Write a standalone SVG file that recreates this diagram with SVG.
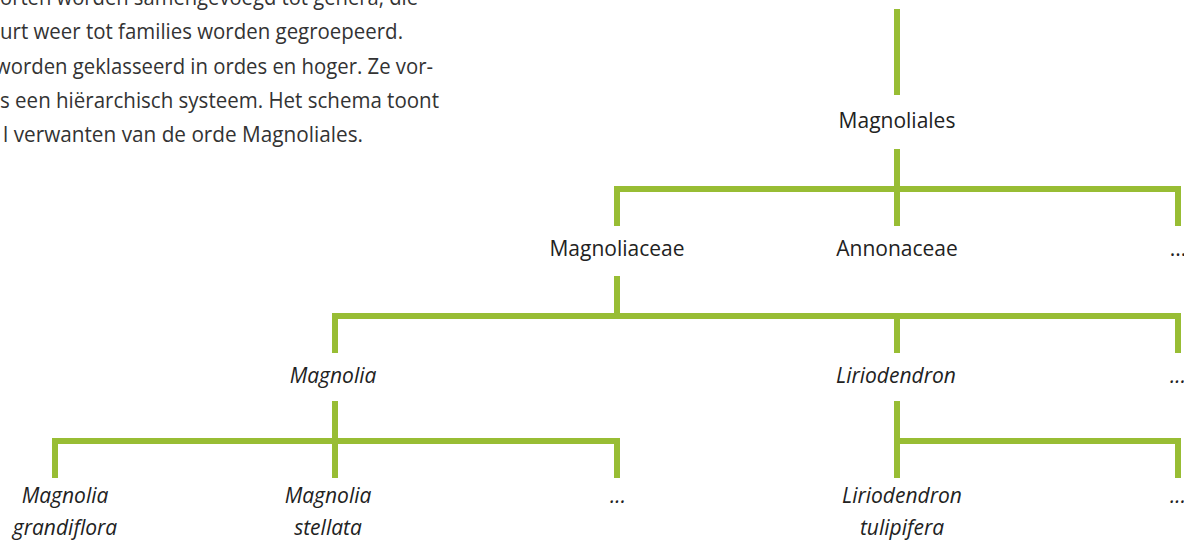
<svg xmlns="http://www.w3.org/2000/svg" width="1184" height="544" viewBox="0 0 1184 544">
  <style>
    .para { font-family: "Open Sans", "Noto Sans", "Liberation Sans", sans-serif; font-size: 21px; fill: #333333; }
    .lbl { font-family: "Open Sans", "Noto Sans", "Liberation Sans", sans-serif; font-size: 21px; fill: #222222; text-anchor: middle; }
    .it { font-style: italic; }
    .conn { fill: none; stroke: #98bd34; stroke-width: 6; stroke-linecap: butt; stroke-linejoin: miter; }
  </style>
  <rect width="1184" height="544" fill="#ffffff"/>

  <g id="intro-text">
    <text class="para" x="0" y="5" textLength="418" lengthAdjust="spacingAndGlyphs">orten worden samengevoegd tot genera, die</text>
    <text class="para" x="0" y="39" textLength="403" lengthAdjust="spacingAndGlyphs">urt weer tot families worden gegroepeerd.</text>
    <text class="para" x="-5" y="74" textLength="438" lengthAdjust="spacingAndGlyphs">worden geklasseerd in ordes en hoger. Ze vor-</text>
    <text class="para" x="0" y="108" textLength="439" lengthAdjust="spacingAndGlyphs">s een hiërarchisch systeem. Het schema toont</text>
    <text class="para" x="3" y="142" textLength="360" lengthAdjust="spacingAndGlyphs">l verwanten van de orde Magnoliales.</text>
  </g>

  <g id="connectors">
    <path class="conn" d="M897,9 V95"/>
    <path class="conn" d="M897,149 V226"/>
    <path class="conn" d="M617,226 V189 H1178 V226"/>
    <path class="conn" d="M617,276 V316"/>
    <path class="conn" d="M335,353 V316 H1178 V353"/>
    <path class="conn" d="M897,316 V353"/>
    <path class="conn" d="M335,401 V478"/>
    <path class="conn" d="M55,478 V441 H617 V478"/>
    <path class="conn" d="M897,401 V478"/>
    <path class="conn" d="M897,441 H1178 V478"/>
  </g>

  <g id="node-magnoliales"><text class="lbl" x="897" y="128">Magnoliales</text></g>
  <g id="node-magnoliaceae"><text class="lbl" x="617" y="256">Magnoliaceae</text></g>
  <g id="node-annonaceae"><text class="lbl" x="897" y="256">Annonaceae</text></g>
  <g id="node-family-more"><text class="lbl" x="1178" y="256">...</text></g>
  <g id="node-magnolia"><text class="lbl it" x="333" y="383">Magnolia</text></g>
  <g id="node-liriodendron"><text class="lbl it" x="896" y="383">Liriodendron</text></g>
  <g id="node-genus-more"><text class="lbl it" x="1178" y="383">...</text></g>
  <g id="node-magnolia-grandiflora">
    <text class="lbl it" x="65" y="503">Magnolia</text>
    <text class="lbl it" x="65" y="535">grandiflora</text>
  </g>
  <g id="node-magnolia-stellata">
    <text class="lbl it" x="328" y="503">Magnolia</text>
    <text class="lbl it" x="328" y="535">stellata</text>
  </g>
  <g id="node-magnolia-more"><text class="lbl it" x="618" y="503">...</text></g>
  <g id="node-liriodendron-tulipifera">
    <text class="lbl it" x="902" y="503">Liriodendron</text>
    <text class="lbl it" x="902" y="535">tulipifera</text>
  </g>
  <g id="node-liriodendron-more"><text class="lbl it" x="1178" y="503">...</text></g>
</svg>
